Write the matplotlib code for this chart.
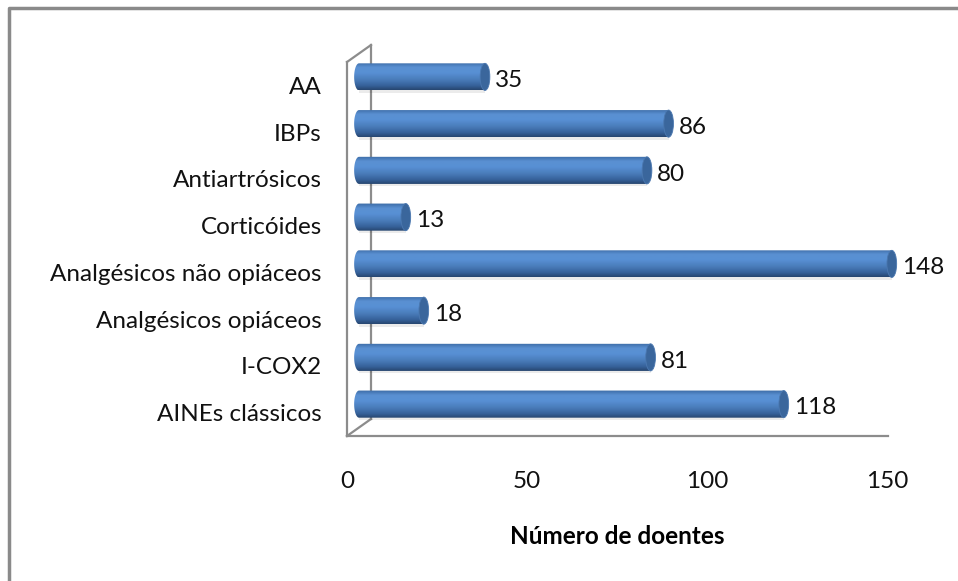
import numpy as np
import matplotlib.pyplot as plt
from matplotlib.colors import LinearSegmentedColormap
from matplotlib.patches import Ellipse, PathPatch
from matplotlib.path import Path
from matplotlib.transforms import ScaledTranslation
from matplotlib.lines import Line2D

# Dados
categorias = ['AINEs clássicos', 'I-COX2', 'Analgésicos opiáceos',
              'Analgésicos não opiáceos', 'Corticóides', 'Antiartrósicos',
              'IBPs', 'AA']
doentes = [118, 81, 18, 148, 13, 80, 86, 35]
xticks = [0, 50, 100, 150]

plt.rcParams['font.family'] = ['Lato', 'DejaVu Sans']
fs = 17.5

fig = plt.figure(figsize=(9.58, 5.81), dpi=100)
ax = fig.add_axes([347 / 958, 145 / 581, 540 / 958, 374 / 581])
ax.set_xlim(0, 150)
ax.set_ylim(-0.5, 7.5)
for s in ax.spines.values():
    s.set_visible(False)

# moldura exterior (só cima e esquerda ficam visíveis)
fig.add_artist(Line2D([9 / 958, 9 / 958, 1], [0, 1 - 8 / 581, 1 - 8 / 581],
                      transform=fig.transFigure, color='#8a8a8a', lw=2.5))

# paredes "3D": plano da frente e plano de trás
dx, dy = 24 / 540, 17 / 374
cor_linha = '#8c8c8c'
for xs, ys in [([0, 0], [0, 1]), ([0, dx], [1, 1 + dy]), ([dx, dx], [1 + dy, dy]),
               ([0, dx], [0, dy]), ([0, 1.001], [0, 0])]:
    ax.add_line(Line2D(xs, ys, transform=ax.transAxes, color=cor_linha,
                       lw=1.6, clip_on=False, zorder=1))

# barras em forma de cilindro, no plano do meio
off = ax.transData + ScaledTranslation(12 / 100, 8.5 / 100, fig.dpi_scale_trans)
cil = LinearSegmentedColormap.from_list('cil', [
    (0.0, '#3c6ba5'), (0.18, '#5a90d2'), (0.38, '#5890d4'),
    (0.62, '#4a7dbb'), (0.85, '#36619a'), (1.0, '#274670')])
grad = np.linspace(0, 1, 64).reshape(-1, 1)
rx, ry = 1.35, 0.29

for i, v in enumerate(doentes):
    # sombra leve
    ax.barh(i - 0.05, v, height=2 * ry, left=0, color='#000000', alpha=0.08,
            transform=off, zorder=2, clip_on=False)
    t = np.linspace(np.pi / 2, 3 * np.pi / 2, 30)
    pts = np.column_stack([rx * np.cos(t), i + ry * np.sin(t)])
    pts = np.vstack([pts, [[v, i - ry], [v, i + ry], pts[0]]])
    corpo = PathPatch(Path(pts), fc='none', ec='none', transform=off)
    ax.add_patch(corpo)
    im = ax.imshow(grad, cmap=cil, aspect='auto', extent=(-rx, v, i - ry, i + ry),
                   transform=off, zorder=3, interpolation='bilinear')
    im.set_clip_box(fig.bbox)
    im.set_clip_path(corpo)
    ax.add_patch(Ellipse((v, i), 2 * rx, 2 * ry, transform=off, clip_on=False,
                         fc='#3a669c', ec='#4b78b0', lw=0.6, zorder=4))
    ax.text(v + 2.8, i - 0.08, str(v), transform=off, va='center', ha='left',
            fontsize=fs, color='#111111', zorder=5)

ax.set_xlim(0, 150)
ax.set_ylim(-0.5, 7.5)
ax.set_yticks(range(len(categorias)), categorias)
ax.set_xticks(xticks)
ax.tick_params(axis='both', length=0, labelsize=fs, labelcolor='#111111')
ax.tick_params(axis='y', pad=18)
ax.tick_params(axis='x', pad=25)
ax.set_xlabel('Número de doentes', fontsize=17.5, fontweight='bold', labelpad=24)

fig.savefig('out.png', dpi=100)
